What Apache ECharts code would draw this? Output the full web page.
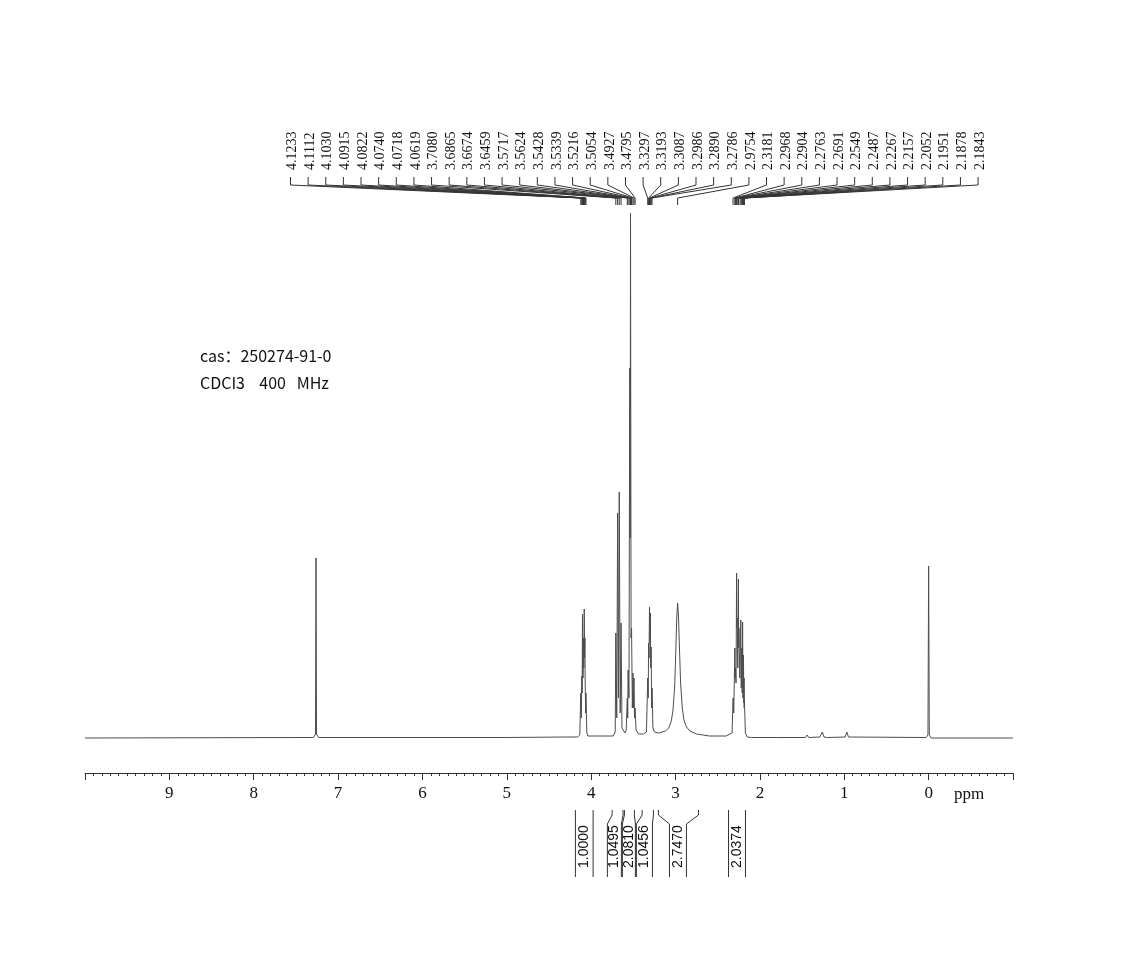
<!DOCTYPE html>
<html>
<head>
<meta charset="utf-8">
<script src="https://cdn.jsdelivr.net/npm/echarts@6/dist/echarts.min.js"></script>
<style>
  html, body {margin: 0;padding: 0;background: #fff;}
  #nmr {width: 1129px;height: 953px;}
</style>
</head>
<body>
<div id="nmr"></div>
<script>
// 谱线数据 [ppm, 强度]
var baseline = [[10, 0], [7.5, 0.5], [5.0, 0.5], [4.3, 1], [1.8, 0.5], [1.2, 0.5], [-1, 0]];
var solvent = [[7.29, 0.5], [7.268, 4], [7.262, 180], [7.256, 4], [7.23, 0.5]];
var tms = [[0.03, 0.5], [0.008, 3], [0.0, 172], [-0.008, 3], [-0.03, 0]];
var impurities = [[1.46, 0.5], [1.44, 3], [1.42, 0.5], [1.29, 1], [1.26, 6], [1.24, 1], [0.99, 1], [0.97, 6], [0.95, 1]];
var m41 = [[4.16, 1], [4.135, 3], [4.1233, 45], [4.117, 20], [4.1112, 62], [4.107, 45], [4.1030, 124], [4.097, 60],
  [4.0915, 100], [4.087, 70], [4.0822, 129], [4.078, 80], [4.0740, 100], [4.0728, 80], [4.0718, 62], [4.066, 25],
  [4.0619, 45], [4.052, 6], [4.04, 2], [3.90, 2]];
var m37 = [[3.74, 2], [3.715, 6], [3.7080, 105], [3.697, 20], [3.6865, 225], [3.677, 40], [3.6674, 246], [3.656, 25],
  [3.6459, 115], [3.635, 10], [3.60, 5]];
var m35 = [[3.585, 8], [3.5717, 40], [3.567, 20], [3.5624, 68], [3.552, 40], [3.5428, 370], [3.538, 200], [3.5339, 525],
  [3.527, 100], [3.5216, 110], [3.512, 30], [3.5054, 65], [3.499, 30], [3.4927, 60], [3.486, 20], [3.4795, 30],
  [3.468, 8], [3.44, 4], [3.38, 4]];
var m33 = [[3.345, 6], [3.3297, 60], [3.324, 40], [3.3193, 95], [3.314, 80], [3.3087, 131], [3.303, 95], [3.2986, 125],
  [3.294, 70], [3.2890, 91], [3.284, 30], [3.2786, 50], [3.268, 10], [3.25, 6]];
var broad = [[3.20, 5], [3.12, 7], [3.08, 10], [3.05, 17], [3.03, 28], [3.01, 52], [2.995, 92], [2.985, 122], [2.975, 135],
  [2.965, 122], [2.955, 94], [2.94, 55], [2.92, 30], [2.90, 18], [2.87, 11], [2.83, 7], [2.75, 4], [2.60, 2], [2.45, 2]];
var m22 = [[2.40, 2], [2.33, 5], [2.3181, 40], [2.31, 25], [2.2968, 90], [2.294, 60], [2.2904, 70], [2.283, 55],
  [2.2763, 165], [2.273, 110], [2.2691, 120], [2.262, 70], [2.2549, 159], [2.252, 90], [2.2487, 110], [2.238, 60],
  [2.2267, 118], [2.221, 50], [2.2157, 90], [2.21, 45], [2.2052, 116], [2.20, 40], [2.1951, 83], [2.19, 35],
  [2.1878, 60], [2.186, 30], [2.1843, 38], [2.172, 5], [2.15, 1], [2.10, 0.5]];

// 峰标注
var peakPpm = [4.1233, 4.1112, 4.1030, 4.0915, 4.0822, 4.0740, 4.0718, 4.0619,
  3.7080, 3.6865, 3.6674, 3.6459,
  3.5717, 3.5624, 3.5428, 3.5339, 3.5216, 3.5054, 3.4927, 3.4795,
  3.3297, 3.3193, 3.3087, 3.2986, 3.2890, 3.2786,
  2.9754,
  2.3181, 2.2968, 2.2904, 2.2763, 2.2691, 2.2549, 2.2487, 2.2267, 2.2157, 2.2052, 2.1951, 2.1878, 2.1843];

// 积分
var intValues = ['1.0000', '1.0495', '2.0810', '1.0456', '2.7470', '2.0374'];
var intFrom = [4.187, 3.752, 3.606, 3.396, 3.203, 2.372];
var intTo = [3.977, 3.622, 3.488, 3.262, 2.728, 2.171];
// 积分标签下方位置 (ppm)
var intSlotFrom = [4.187, 3.808, 3.630, 3.464, 3.072, 2.372];
var intSlotTo = [3.977, 3.642, 3.476, 3.274, 2.871, 2.171];

var spectrum = [].concat(baseline, solvent, tms, impurities, m41, m37, m35, m33, broad, m22)
  .sort(function (a, b) { return b[0] - a[0]; });

var lineColor = '#333';
var chart = echarts.init(document.getElementById('nmr'));

chart.setOption({
  animation: false,
  grid: {left: 85, right: 116, top: 213, bottom: 180},
  xAxis: {
    type: 'value', min: -1, max: 10, interval: 1, inverse: true,
    axisLine: {onZero: false, lineStyle: {color: lineColor, width: 1}},
    axisTick: {length: 7, lineStyle: {color: lineColor}},
    minorTick: {show: true, splitNumber: 10, length: 3, lineStyle: {color: lineColor}},
    splitLine: {show: false},
    axisLabel: {
      margin: 12, color: '#111', fontFamily: 'Liberation Serif', fontSize: 17,
      formatter: function (v) { return (v < 0 || v > 9) ? '' : String(v); }
    }
  },
  yAxis: {type: 'value', min: -35, max: 525, show: false},
  graphic: [
    {type: 'text', left: 200, top: 348, style: {text: 'cas：250274-91-0', font: '16px "Noto Sans CJK SC"', fill: '#111'}},
    {type: 'text', left: 200, top: 375, style: {text: 'CDCI3    400   MHz', font: '16px "Noto Sans CJK SC"', fill: '#111'}}
  ],
  series: [
    {
      type: 'line', data: spectrum, showSymbol: false, silent: true,
      lineStyle: {color: '#4d4d4d', width: 1}
    },
    {
      // 峰位标注
      type: 'custom', clip: false, silent: true,
      data: peakPpm.map(function (p, i) { return [p, i]; }),
      encode: {x: 0, y: 1},
      renderItem: function (params, api) {
        var i = api.value(1);
        var px = api.coord([api.value(0), 0])[0];
        var lx = 292.5 + i * 17.63;
        return {
          type: 'group',
          children: [
            {type: 'text', x: lx, y: 170, rotation: Math.PI / 2,
              style: {text: peakPpm[i].toFixed(4), font: '14px "Liberation Serif"', fill: '#111', align: 'left', verticalAlign: 'middle'}},
            {type: 'polyline', shape: {points: [[lx - 2, 177], [lx - 2, 185], [px, 198], [px, 205]]},
              style: {stroke: '#333', lineWidth: 1, fill: null}}
          ]
        };
      }
    },
    {
      // 积分
      type: 'custom', clip: false, silent: true,
      data: intFrom.map(function (p, i) { return [p, i]; }),
      encode: {x: 0, y: 1},
      renderItem: function (params, api) {
        var i = api.value(1);
        var a = api.coord([intFrom[i], 0])[0];
        var b = api.coord([intTo[i], 0])[0];
        var sa = api.coord([intSlotFrom[i], 0])[0];
        var sb = api.coord([intSlotTo[i], 0])[0];
        var st = {stroke: '#333', lineWidth: 1, fill: null};
        return {
          type: 'group',
          children: [
            {type: 'polyline', shape: {points: [[a, 810], [a, 815], [sa, 824], [sa, 877]]}, style: st},
            {type: 'polyline', shape: {points: [[b, 810], [b, 815], [sb, 824], [sb, 877]]}, style: st},
            {type: 'text', x: (sa + sb) / 2, y: 868, rotation: Math.PI / 2,
              style: {text: intValues[i], font: '14px "Liberation Sans"', fill: '#111', align: 'left', verticalAlign: 'middle'}}
          ]
        };
      }
    },
    {
      // 单位
      type: 'custom', clip: false, silent: true,
      data: [[-0.48, 0]],
      renderItem: function (params, api) {
        var x = api.coord([api.value(0), 0])[0];
        return {type: 'text', x: x, y: 795,
          style: {text: 'ppm', font: '17px "Liberation Serif"', fill: '#111', align: 'center', verticalAlign: 'middle'}};
      }
    }
  ]
});
</script>
</body>
</html>
